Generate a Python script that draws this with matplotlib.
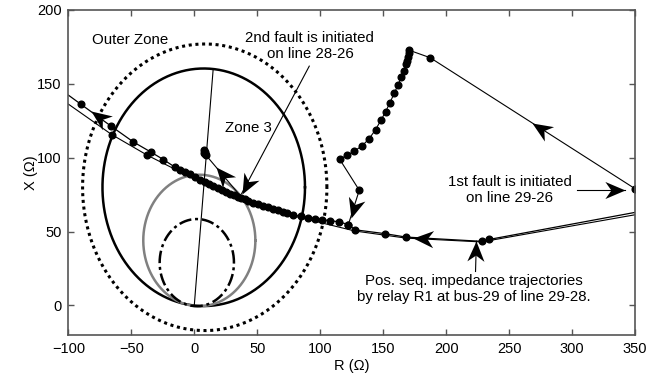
import numpy as np
import matplotlib.pyplot as plt
from matplotlib.markers import MarkerStyle
from matplotlib.path import Path
from matplotlib.transforms import Affine2D

plt.rcParams['font.family'] = ['Liberation Sans', 'DejaVu Sans']

#%% Relay characteristics (R, X in ohms)
outer_c, outer_r = (8.3, 80.0), 97.0
zone3_c, zone3_r = (7.5, 80.0), 80.4
mid_c, mid_r = (4.0, 44.0), 44.5
inner_c, inner_r = (2.0, 29.0), 29.5
reach_R = [0, 15]
reach_X = [0, 160]

#%% Impedance trajectories
# 1st fault, line 29-26
R1 = [350, 187.3, 170.2, 170.7, 169.9, 169.0, 168.0, 166.4, 164.3, 161.7, 158.7, 155.3,
      151.9, 148.2, 144.0, 138.7, 132.9, 127.0, 121.2, 115.4, 131.0, 122.3]
X1 = [79, 167.7, 172.9, 170.6, 167.9, 165.6, 163.4, 158.9, 154.4, 149.2, 143.5, 137.2,
      131.1, 125.4, 119.1, 112.7, 107.8, 104.5, 101.6, 99.0, 78.0, 54.7]

# main trajectory seen by R1
R2 = [350, 234.2, 228.3, 168.0, 151.4, 127.8, 122.3, 115.1, 107.7, 101.1, 95.8, 90.5, 85.0,
      78.6, 74.0, 70.6, 66.5, 62.7, 58.5, 54.8, 50.5, 46.8, 43.0, 40.2, 37.0, 34.9, 31.5,
      28.3, 25.0, 21.7, 18.5, 15.1, 12.0, 8.5, 4.5, 0.5, -3.5, -7.4, -11.5, -15.3, -24.6,
      -34.6, -48.4, -66.1, -90.2, -100]
X2 = [63.0, 44.7, 43.4, 46.3, 48.6, 51.2, 54.7, 56.6, 57.4, 58.1, 58.8, 59.5, 60.3,
      61.3, 62.4, 63.3, 64.4, 65.5, 66.4, 67.2, 68.4, 69.6, 70.8, 71.8, 72.8, 73.5, 74.6,
      75.6, 76.6, 77.9, 79.4, 81.0, 82.3, 83.6, 85.2, 87.0, 88.7, 90.4, 92.0, 93.6, 98.8,
      103.9, 110.7, 121.4, 136.3, 142.4]

# companion trajectory
R3 = [350, 228.0, 168.0, 127.5, 78.6, 38.9, 0.0, -37.3, -65.6, -100]
X3 = [61.4, 43.0, 45.6, 50.4, 60.6, 72.0, 85.6, 101.7, 115.7, 136.3]
R3_dots = [-37.3, -65.6]
X3_dots = [101.7, 115.7]

# jump after 2nd fault
R4 = [38.0, 9.3]
X4 = [72.8, 101.7]
R4_dots = [7.7, 8.2, 8.8, 9.3, 8.0]
X4_dots = [105.2, 104.0, 102.8, 101.7, 103.0]

#%% Figure
fig = plt.figure(figsize=(6.66, 3.8), dpi=100)
ax = fig.add_axes([0.1026, 0.1184, 0.851, 0.8553])
ax.set_xlim(-100, 350)
ax.set_ylim(-20, 200)


def circle(c, r, **kw):
    t = np.linspace(0, 2 * np.pi, 400)
    ax.plot(c[0] + r * np.cos(t), c[1] + r * np.sin(t), **kw)


circle(outer_c, outer_r, color='k', ls=(0, (1, 1.2)), lw=2.2)
circle(zone3_c, zone3_r, color='k', lw=1.8)
circle(mid_c, mid_r, color='#808080', lw=1.8)
circle(inner_c, inner_r, color='k', ls=(0, (5, 1.5, 1.2, 1.5)), lw=1.8)
ax.plot(reach_R, reach_X, color='k', lw=0.8)

dot = dict(marker='o', ms=4.8, color='k', ls='none')
ax.plot(R1, X1, color='k', lw=0.8)
ax.plot(R1, X1, **dot)
ax.plot(R3, X3, color='k', lw=0.8)
ax.plot(R3_dots, X3_dots, **dot)
ax.plot(R2, X2, color='k', lw=0.9)
ax.plot(R2[1:-1], X2[1:-1], **dot)
ax.plot(R4, X4, color='k', lw=0.8)
ax.plot(R4_dots, X4_dots, **dot)

# stealth-shaped arrow head with the tip at the origin
HEAD = Path([(0, 0), (-2, 0.85), (-1.4, 0), (-2, -0.85), (0, 0)],
            [Path.MOVETO, Path.LINETO, Path.LINETO, Path.LINETO, Path.CLOSEPOLY])


def head(tail, tip, size=29):
    p0, p1 = ax.transData.transform([tail, tip])
    ang = np.degrees(np.arctan2(p1[1] - p0[1], p1[0] - p0[0]))
    m = MarkerStyle(HEAD, transform=Affine2D().rotate_deg(ang))
    ax.plot(tip[0], tip[1], marker=m, ms=size, color='k', mew=0, ls='none')


def arrow(tail, tip):
    ax.plot([tail[0], tip[0]], [tail[1], tip[1]], color='k', lw=0.8)
    head(tail, tip)


# direction heads on the trajectories
head((350, 79), (268, 123.7))
head((131, 78), (124.5, 59))
head((228.3, 43.4), (174, 46))
head((-66.1, 121.4), (-82, 131.3))
head((38, 72.8), (17, 93.8))

# annotations
fs = 10.8
arrow((91.3, 162), (37.6, 75.7))
arrow((304, 78.3), (342, 78.3))
arrow((223.3, 23), (224, 43.5))

ax.text(-51, 179.7, 'Outer Zone', fontsize=fs, ha='center', va='center')
ax.text(42.7, 120, 'Zone 3', fontsize=fs, ha='center', va='center')
ax.text(91.8, 175.5, '2nd fault is initiated\non line 28-26', fontsize=fs,
        ha='center', va='center', linespacing=1.15)
ax.text(250.6, 78, '1st fault is initiated\non line 29-26', fontsize=fs,
        ha='center', va='center', linespacing=1.15)
ax.text(222, 11.3, 'Pos. seq. impedance trajectories\nby relay R1 at bus-29 of line 29-28.',
        fontsize=fs, ha='center', va='center', linespacing=1.15)

ax.set_xticks(np.arange(-100, 351, 50))
ax.set_yticks([0, 50, 100, 150, 200])
ax.tick_params(direction='in', top=True, right=True, length=4, width=1.0,
               color='#555555', labelsize=10.5, pad=5)
for s in ax.spines.values():
    s.set_color('#555555')
    s.set_linewidth(1.2)

ax.set_xlabel('R (Ω)', fontsize=10.5, labelpad=2)
ax.set_ylabel('X (Ω)', fontsize=10.5, labelpad=-1)

fig.savefig('out.png', dpi=100)
